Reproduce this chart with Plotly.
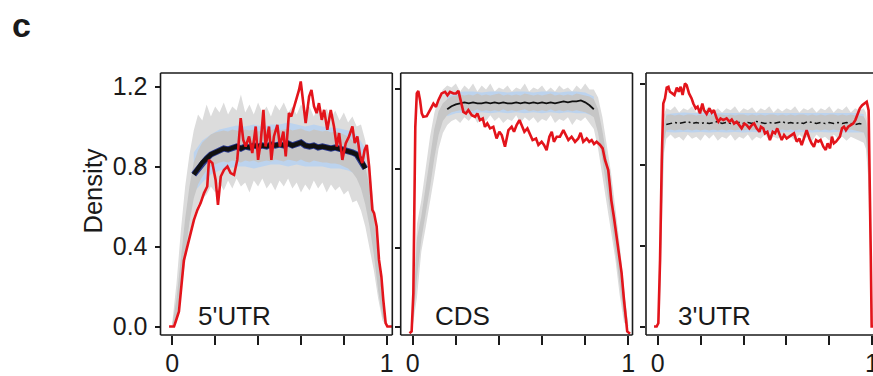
import plotly.graph_objects as go

# ---------------- data ----------------
GRID = [0.00, 0.02, 0.04, 0.06, 0.08, 0.10, 0.12, 0.14, 0.16, 0.18,
        0.20, 0.22, 0.24, 0.26, 0.28, 0.30, 0.32, 0.34, 0.36, 0.38,
        0.40, 0.42, 0.44, 0.46, 0.48, 0.50, 0.52, 0.54, 0.56, 0.58,
        0.60, 0.62, 0.64, 0.66, 0.68, 0.70, 0.72, 0.74, 0.76, 0.78,
        0.80, 0.82, 0.84, 0.86, 0.88, 0.90, 0.92, 0.94, 0.96, 0.98, 1.00]

GRID3 = [0.00, 0.01, 0.02, 0.03,
         0.04, 0.06, 0.08, 0.10, 0.12, 0.14, 0.16, 0.18, 0.20, 0.22,
         0.24, 0.26, 0.28, 0.30, 0.32, 0.34, 0.36, 0.38, 0.40, 0.42,
         0.44, 0.46, 0.48, 0.50, 0.52, 0.54, 0.56, 0.58, 0.60, 0.62,
         0.64, 0.66, 0.68, 0.70, 0.72, 0.74, 0.76, 0.78, 0.80, 0.82,
         0.84, 0.86, 0.88, 0.90, 0.92, 0.94, 0.96,
         0.97, 0.98, 0.99, 1.00]

regions = ["5'UTR", "CDS", "3'UTR"]

# ---- 5'UTR ----
utr5_outer_hi = [0.02, 0.22, 0.48, 0.70, 0.86, 0.98, 1.06, 1.03, 1.11, 1.05,
                 1.10, 1.07, 1.12, 1.06, 1.10, 1.08, 1.16, 1.07, 1.11, 1.06,
                 1.12, 1.07, 1.10, 1.05, 1.11, 1.08, 1.12, 1.07, 1.10, 1.06,
                 1.11, 1.08, 1.10, 1.05, 1.10, 1.06, 1.09, 1.04, 1.08, 1.03,
                 1.07, 1.02, 1.05, 1.00, 1.01, 0.93, 0.80, 0.60, 0.36, 0.12, 0.01]
utr5_outer_lo = [0.00, 0.04, 0.16, 0.32, 0.46, 0.55, 0.61, 0.64, 0.66, 0.70,
                 0.67, 0.72, 0.68, 0.73, 0.69, 0.74, 0.70, 0.72, 0.67, 0.73,
                 0.70, 0.74, 0.69, 0.72, 0.68, 0.73, 0.70, 0.74, 0.69, 0.72,
                 0.67, 0.71, 0.68, 0.73, 0.69, 0.72, 0.67, 0.71, 0.68, 0.70,
                 0.66, 0.68, 0.62, 0.63, 0.58, 0.50, 0.40, 0.28, 0.14, 0.03, 0.00]
utr5_mid_hi = [0.01, 0.14, 0.34, 0.54, 0.70, 0.82, 0.88, 0.92, 0.94, 0.96,
               0.97, 0.975, 0.98, 0.975, 0.985, 0.98, 0.975, 0.985, 0.98, 0.985,
               0.975, 0.98, 0.985, 0.98, 0.99, 0.98, 0.985, 0.99, 0.98, 0.985,
               0.99, 0.98, 0.975, 0.985, 0.98, 0.975, 0.98, 0.97, 0.975, 0.97,
               0.96, 0.95, 0.93, 0.91, 0.87, 0.80, 0.70, 0.54, 0.34, 0.14, 0.01]
utr5_mid_lo = [0.00, 0.05, 0.18, 0.36, 0.52, 0.64, 0.71, 0.75, 0.78, 0.80,
               0.81, 0.82, 0.825, 0.82, 0.83, 0.825, 0.82, 0.83, 0.825, 0.83,
               0.82, 0.825, 0.83, 0.825, 0.835, 0.83, 0.825, 0.835, 0.83, 0.825,
               0.835, 0.825, 0.82, 0.83, 0.825, 0.82, 0.82, 0.815, 0.815, 0.81,
               0.80, 0.79, 0.77, 0.74, 0.69, 0.61, 0.50, 0.36, 0.18, 0.05, 0.00]
utr5_blue_x = [0.10, 0.14, 0.18, 0.22, 0.26, 0.30, 0.34, 0.38, 0.42, 0.46, 0.50,
               0.54, 0.58, 0.62, 0.66, 0.70, 0.74, 0.78, 0.82, 0.86, 0.90]
utr5_blue_hi = [0.87, 0.93, 0.96, 0.985, 0.995, 1.005, 1.0, 1.01, 1.0, 1.01, 1.01,
                1.02, 1.01, 1.0, 1.01, 1.0, 0.995, 0.99, 0.98, 0.96, 0.89]
utr5_blue_lo = [0.67, 0.72, 0.76, 0.78, 0.79, 0.80, 0.80, 0.79, 0.80, 0.81, 0.81,
                0.80, 0.81, 0.80, 0.80, 0.80, 0.79, 0.79, 0.78, 0.76, 0.69]
utr5_mean_x = [0.10, 0.12, 0.14, 0.16, 0.18, 0.20, 0.22, 0.24, 0.26, 0.28,
               0.30, 0.32, 0.34, 0.36, 0.38, 0.40, 0.42, 0.44, 0.46, 0.48,
               0.50, 0.52, 0.54, 0.56, 0.58, 0.60, 0.62, 0.64, 0.66, 0.68,
               0.70, 0.72, 0.74, 0.76, 0.78, 0.80, 0.82, 0.84, 0.86, 0.88, 0.90]
utr5_mean = [0.76, 0.79, 0.82, 0.84, 0.86, 0.87, 0.88, 0.89, 0.885, 0.895,
             0.90, 0.89, 0.90, 0.895, 0.905, 0.90, 0.905, 0.90, 0.91, 0.905,
             0.91, 0.905, 0.915, 0.905, 0.91, 0.92, 0.905, 0.90, 0.905, 0.895,
             0.90, 0.895, 0.89, 0.895, 0.89, 0.885, 0.88, 0.87, 0.86, 0.83, 0.79]
utr5_red_x = [-0.015, 0.008, 0.016, 0.031, 0.054, 0.070, 0.086, 0.101, 0.117, 0.132,
              0.148, 0.163, 0.171, 0.187, 0.202, 0.213, 0.226, 0.241, 0.257, 0.272,
              0.288, 0.303, 0.319, 0.331, 0.342, 0.358, 0.373, 0.389, 0.400, 0.412,
              0.425, 0.435, 0.451, 0.462, 0.474, 0.490, 0.502, 0.518, 0.529, 0.544,
              0.555, 0.568, 0.580, 0.591, 0.599, 0.611, 0.622, 0.638, 0.649, 0.661,
              0.673, 0.684, 0.697, 0.708, 0.723, 0.739, 0.754, 0.767, 0.778, 0.793,
              0.809, 0.824, 0.840, 0.851, 0.863, 0.876, 0.886, 0.897, 0.907, 0.918,
              0.925, 0.933, 0.941, 0.953, 0.964, 0.975, 0.984, 0.995, 1.003, 1.026]
utr5_red = [0.0, 0.0, 0.025, 0.075, 0.33, 0.40, 0.483, 0.533, 0.583, 0.617,
            0.667, 0.70, 0.833, 0.817, 0.733, 0.608, 0.75, 0.783, 0.80, 0.767,
            0.758, 0.833, 1.042, 0.933, 0.90, 0.95, 0.867, 1.0, 0.833, 0.917,
            1.083, 0.90, 1.0, 0.833, 0.95, 1.008, 0.90, 0.975, 0.85, 1.067,
            1.05, 1.10, 1.133, 1.183, 1.225, 1.117, 1.017, 1.15, 1.183, 1.10,
            1.067, 1.117, 1.033, 1.083, 0.983, 1.083, 1.0, 0.90, 0.967, 0.833,
            0.917, 0.95, 1.0, 0.917, 0.95, 0.85, 0.817, 0.883, 0.908, 0.80,
            0.70, 0.583, 0.567, 0.50, 0.333, 0.25, 0.133, 0.017, 0.0, 0.0]

# ---- CDS ----
cds_outer_hi = [0.10, 0.52, 0.64, 0.80, 0.96, 1.08, 1.16, 1.20, 1.22, 1.21,
                1.23, 1.19, 1.22, 1.20, 1.23, 1.19, 1.22, 1.20, 1.23, 1.19,
                1.21, 1.20, 1.22, 1.19, 1.21, 1.20, 1.23, 1.19, 1.21, 1.20,
                1.22, 1.19, 1.21, 1.19, 1.22, 1.20, 1.21, 1.19, 1.22, 1.20,
                1.23, 1.20, 1.20, 1.16, 1.06, 0.92, 0.78, 0.60, 0.42, 0.20, 0.02]
cds_outer_lo = [0.00, 0.15, 0.38, 0.50, 0.62, 0.76, 0.90, 0.98, 1.02, 1.04,
                1.05, 1.03, 1.06, 1.04, 1.07, 1.03, 1.05, 1.04, 1.07, 1.04,
                1.06, 1.03, 1.05, 1.04, 1.07, 1.03, 1.06, 1.04, 1.06, 1.03,
                1.05, 1.04, 1.07, 1.03, 1.05, 1.04, 1.06, 1.02, 1.05, 1.04,
                1.06, 1.03, 1.00, 0.90, 0.76, 0.62, 0.48, 0.34, 0.16, 0.02, 0.00]
cds_mid_hi = [0.05, 0.45, 0.56, 0.70, 0.86, 1.00, 1.09, 1.13, 1.15, 1.165,
              1.17, 1.175, 1.17, 1.175, 1.17, 1.18, 1.17, 1.175, 1.17, 1.175,
              1.18, 1.17, 1.175, 1.17, 1.175, 1.17, 1.18, 1.175, 1.17, 1.175,
              1.17, 1.175, 1.18, 1.17, 1.175, 1.17, 1.175, 1.17, 1.18, 1.175,
              1.17, 1.165, 1.15, 1.10, 0.99, 0.86, 0.72, 0.54, 0.36, 0.16, 0.01]
cds_mid_lo = [0.00, 0.25, 0.44, 0.56, 0.70, 0.85, 0.97, 1.04, 1.07, 1.085,
              1.09, 1.095, 1.09, 1.095, 1.09, 1.10, 1.09, 1.095, 1.09, 1.095,
              1.09, 1.10, 1.09, 1.095, 1.09, 1.095, 1.10, 1.09, 1.095, 1.09,
              1.095, 1.09, 1.10, 1.09, 1.095, 1.09, 1.095, 1.09, 1.095, 1.09,
              1.085, 1.075, 1.06, 0.98, 0.84, 0.70, 0.55, 0.40, 0.22, 0.05, 0.00]
cds_blue_x = [0.16, 0.20, 0.24, 0.28, 0.32, 0.36, 0.40, 0.44, 0.48,
              0.52, 0.56, 0.60, 0.64, 0.68, 0.72, 0.76, 0.80, 0.84]
cds_blue_hi = [1.165, 1.185, 1.19, 1.19, 1.185, 1.19, 1.19, 1.185, 1.19,
               1.19, 1.185, 1.19, 1.19, 1.185, 1.19, 1.19, 1.185, 1.165]
cds_blue_lo = [1.065, 1.08, 1.085, 1.08, 1.085, 1.08, 1.085, 1.08, 1.085,
               1.08, 1.085, 1.08, 1.085, 1.08, 1.085, 1.08, 1.08, 1.065]
cds_mean_x = [0.16, 0.18, 0.20, 0.22, 0.24, 0.26, 0.28, 0.30, 0.32, 0.34,
              0.36, 0.38, 0.40, 0.42, 0.44, 0.46, 0.48, 0.50, 0.52, 0.54,
              0.56, 0.58, 0.60, 0.62, 0.64, 0.66, 0.68, 0.70, 0.72, 0.74,
              0.76, 0.78, 0.80, 0.82, 0.84]
cds_mean = [1.10, 1.115, 1.125, 1.13, 1.135, 1.13, 1.135, 1.13, 1.13, 1.135,
            1.13, 1.135, 1.13, 1.135, 1.13, 1.13, 1.135, 1.13, 1.135, 1.13,
            1.135, 1.13, 1.135, 1.13, 1.135, 1.13, 1.135, 1.14, 1.135, 1.14,
            1.14, 1.145, 1.135, 1.12, 1.10]
cds_red_x = [-0.015, -0.005, 0.003, 0.008, 0.012, 0.019, 0.026, 0.034, 0.042, 0.049,
             0.065, 0.080, 0.096, 0.108, 0.119, 0.134, 0.150, 0.161, 0.173, 0.189,
             0.201, 0.212, 0.223, 0.235, 0.247, 0.258, 0.274, 0.289, 0.300, 0.312,
             0.325, 0.335, 0.346, 0.359, 0.374, 0.389, 0.402, 0.413, 0.428, 0.444,
             0.459, 0.470, 0.482, 0.495, 0.505, 0.518, 0.532, 0.544, 0.556, 0.572,
             0.583, 0.598, 0.609, 0.621, 0.634, 0.645, 0.655, 0.668, 0.683, 0.699,
             0.711, 0.722, 0.737, 0.753, 0.768, 0.779, 0.791, 0.807, 0.819, 0.830,
             0.841, 0.853, 0.869, 0.881, 0.892, 0.900, 0.907, 0.915, 0.921, 0.933,
             0.946, 0.958, 0.969, 0.980, 0.989, 0.995, 1.008]
cds_red = [-0.034, -0.025, 0.169, 0.674, 1.011, 1.180, 1.193, 1.146, 1.079, 1.062,
           1.065, 1.096, 1.129, 1.112, 1.146, 1.180, 1.188, 1.171, 1.188, 1.180,
           1.180, 1.193, 1.146, 1.087, 1.079, 1.096, 1.070, 1.062, 1.079, 1.045,
           1.053, 1.011, 1.028, 1.003, 1.011, 0.952, 0.986, 0.969, 0.910, 0.994,
           1.011, 0.986, 1.020, 1.045, 1.020, 0.986, 1.003, 0.969, 0.944, 0.952,
           0.919, 0.935, 0.919, 0.893, 0.961, 0.986, 0.935, 0.961, 0.961, 0.994,
           0.969, 0.944, 0.961, 0.935, 0.952, 0.981, 0.935, 0.952, 0.935, 0.944,
           0.924, 0.935, 0.919, 0.902, 0.843, 0.809, 0.792, 0.708, 0.640, 0.556,
           0.455, 0.371, 0.270, 0.135, 0.017, -0.025, -0.037]

# ---- 3'UTR ----
utr3_outer_hi = [0.02, 0.40, 0.90, 1.05,
                 1.08, 1.07, 1.09, 1.06, 1.08, 1.07, 1.09, 1.06, 1.08, 1.07,
                 1.09, 1.06, 1.08, 1.06, 1.08, 1.07, 1.09, 1.06, 1.08, 1.07,
                 1.085, 1.06, 1.08, 1.07, 1.09, 1.06, 1.08, 1.065, 1.08, 1.07,
                 1.09, 1.06, 1.08, 1.07, 1.085, 1.06, 1.08, 1.07, 1.09, 1.06,
                 1.08, 1.07, 1.09, 1.06, 1.08, 1.07, 1.08,
                 1.06, 1.00, 0.70, 0.15]
utr3_outer_lo = [0.00, 0.06, 0.50, 0.86,
                 0.93, 0.95, 0.93, 0.94, 0.92, 0.95, 0.93, 0.94, 0.92, 0.95,
                 0.93, 0.95, 0.92, 0.94, 0.93, 0.95, 0.92, 0.94, 0.93, 0.95,
                 0.92, 0.94, 0.93, 0.95, 0.92, 0.94, 0.93, 0.95, 0.93, 0.94,
                 0.92, 0.95, 0.93, 0.94, 0.92, 0.95, 0.93, 0.94, 0.92, 0.95,
                 0.93, 0.94, 0.92, 0.94, 0.93, 0.92, 0.91,
                 0.88, 0.75, 0.35, 0.00]
utr3_mid_hi = [0.01, 0.25, 0.75, 1.00,
               1.045, 1.05, 1.045, 1.05, 1.045, 1.05, 1.05, 1.045, 1.05, 1.045,
               1.05, 1.045, 1.05, 1.05, 1.045, 1.05, 1.045, 1.05, 1.05, 1.045,
               1.05, 1.045, 1.05, 1.045, 1.05, 1.05, 1.045, 1.05, 1.045, 1.05,
               1.045, 1.05, 1.05, 1.045, 1.05, 1.045, 1.05, 1.045, 1.05, 1.05,
               1.045, 1.05, 1.045, 1.05, 1.045, 1.045, 1.04,
               1.02, 0.95, 0.60, 0.08]
utr3_mid_lo = [0.00, 0.12, 0.60, 0.92,
               0.97, 0.975, 0.97, 0.975, 0.97, 0.975, 0.97, 0.975, 0.97, 0.975,
               0.97, 0.975, 0.97, 0.975, 0.97, 0.975, 0.97, 0.975, 0.97, 0.975,
               0.97, 0.975, 0.97, 0.975, 0.97, 0.975, 0.97, 0.975, 0.97, 0.975,
               0.97, 0.975, 0.97, 0.975, 0.97, 0.975, 0.97, 0.975, 0.97, 0.975,
               0.97, 0.975, 0.97, 0.975, 0.97, 0.965, 0.96,
               0.93, 0.82, 0.45, 0.02]
utr3_blue_x = [0.04, 0.08, 0.12, 0.16, 0.20, 0.24, 0.28, 0.32, 0.36, 0.40, 0.44, 0.48,
               0.52, 0.56, 0.60, 0.64, 0.68, 0.72, 0.76, 0.80, 0.84, 0.88, 0.92, 0.96]
utr3_blue_hi = [1.052, 1.057, 1.06, 1.057, 1.057, 1.06, 1.057, 1.057, 1.06, 1.057, 1.057, 1.06,
                1.057, 1.057, 1.06, 1.057, 1.057, 1.06, 1.057, 1.057, 1.06, 1.057, 1.057, 1.052]
utr3_blue_lo = [0.963, 0.96, 0.963, 0.961, 0.963, 0.96, 0.963, 0.961, 0.963, 0.96, 0.963, 0.961,
                0.963, 0.96, 0.963, 0.961, 0.963, 0.96, 0.963, 0.961, 0.963, 0.96, 0.961, 0.96]
utr3_mean_x = [0.04, 0.06, 0.08, 0.10, 0.12, 0.14, 0.16, 0.18, 0.20, 0.22,
               0.24, 0.26, 0.28, 0.30, 0.32, 0.34, 0.36, 0.38, 0.40, 0.42,
               0.44, 0.46, 0.48, 0.50, 0.52, 0.54, 0.56, 0.58, 0.60, 0.62,
               0.64, 0.66, 0.68, 0.70, 0.72, 0.74, 0.76, 0.78, 0.80, 0.82,
               0.84, 0.86, 0.88, 0.90, 0.92, 0.94, 0.96]
utr3_mean = [1.00, 1.005, 1.01, 1.005, 1.01, 1.015, 1.005, 1.01, 1.005, 1.01,
             1.005, 1.01, 1.015, 1.005, 1.01, 1.005, 1.01, 1.01, 1.005, 1.01,
             1.005, 1.015, 1.01, 1.005, 1.01, 1.005, 1.01, 1.015, 1.005, 1.01,
             1.005, 1.01, 1.005, 1.015, 1.01, 1.005, 1.01, 1.005, 1.01, 1.005,
             1.01, 1.005, 1.01, 1.005, 1.00, 1.005, 1.00]
utr3_red_x = [-0.017, -0.005, 0.003, 0.011, 0.019, 0.026, 0.034, 0.042, 0.050, 0.057,
              0.068, 0.078, 0.089, 0.098, 0.107, 0.116, 0.127, 0.135, 0.146, 0.158,
              0.166, 0.177, 0.186, 0.197, 0.208, 0.216, 0.228, 0.241, 0.252, 0.262,
              0.275, 0.283, 0.293, 0.306, 0.321, 0.334, 0.345, 0.356, 0.368, 0.380,
              0.391, 0.404, 0.415, 0.427, 0.438, 0.449, 0.461, 0.474, 0.481, 0.492,
              0.500, 0.511, 0.523, 0.536, 0.547, 0.557, 0.570, 0.578, 0.589, 0.601,
              0.613, 0.624, 0.635, 0.648, 0.660, 0.671, 0.682, 0.694, 0.707, 0.717,
              0.728, 0.738, 0.748, 0.759, 0.772, 0.783, 0.792, 0.803, 0.812, 0.821,
              0.831, 0.842, 0.849, 0.859, 0.868, 0.877, 0.888, 0.899, 0.911, 0.921,
              0.930, 0.942, 0.953, 0.964, 0.974, 0.983, 0.988, 0.993, 0.997, 1.020]
utr3_red = [0.0, 0.0, 0.016, 0.33, 0.824, 1.104, 1.129, 1.183, 1.187, 1.162,
            1.154, 1.146, 1.183, 1.162, 1.187, 1.146, 1.203, 1.195, 1.154, 1.129,
            1.104, 1.080, 1.088, 1.055, 1.104, 1.071, 1.052, 1.080, 1.058, 1.071,
            1.030, 1.014, 1.030, 1.022, 1.030, 1.014, 1.025, 1.005, 1.014, 0.997,
            0.981, 1.005, 0.997, 0.981, 0.997, 1.005, 0.981, 0.964, 0.989, 0.981,
            0.956, 0.964, 0.923, 0.964, 0.956, 0.981, 0.940, 0.923, 0.948, 0.931,
            0.940, 0.948, 0.956, 0.915, 0.931, 0.898, 0.931, 0.972, 0.931, 0.907,
            0.890, 0.923, 0.915, 0.923, 0.890, 0.874, 0.907, 0.882, 0.940, 0.907,
            0.915, 0.931, 0.940, 0.981, 0.989, 0.972, 0.989, 0.997, 1.005, 1.022,
            1.047, 1.080, 1.096, 1.104, 1.113, 1.070, 0.800, 0.350, 0.0, 0.0]

y_tick_vals = [0.0, 0.4, 0.8, 1.2]
y_tick_text = ["0.0", "0.4", "0.8", "1.2"]
x_tick_vals = [0.0, 0.2, 0.4, 0.6, 0.8, 1.0]
x_tick_text = ["0", "", "", "", "", "1"]

# ---------------- styling / layout ----------------
W, H = 873, 376
C_LIGHT = "#dcdcdc"
C_MID = "#c6c6c6"
C_BLUE = "#bcd3ee"
C_NAVY = "#2b3a8f"
C_BLACK = "#111111"
C_RED = "#e3141b"
C_AXIS = "#1a1a1a"
FONT = "Liberation Sans, Arial, sans-serif"
TICK_SIZE = 25

panels = [
    dict(name=regions[0], grid=GRID, ohi=utr5_outer_hi, olo=utr5_outer_lo,
         mhi=utr5_mid_hi, mlo=utr5_mid_lo, bx=utr5_blue_x, bhi=utr5_blue_hi, blo=utr5_blue_lo,
         mx=utr5_mean_x, my=utr5_mean, rx=utr5_red_x, ry=utr5_red,
         px=(160.5, 392.3), xr=(-0.055, 1.026), yr=(-0.0425, 1.2675), lab_x=196.0,
         navy=True, mean_w=4.5, dash="solid"),
    dict(name=regions[1], grid=GRID, ohi=cds_outer_hi, olo=cds_outer_lo,
         mhi=cds_mid_hi, mlo=cds_mid_lo, bx=cds_blue_x, bhi=cds_blue_hi, blo=cds_blue_lo,
         mx=cds_mean_x, my=cds_mean, rx=cds_red_x, ry=cds_red,
         px=(400.7, 632.5), xr=(-0.0557, 1.0195), yr=(-0.043, 1.2835), lab_x=432.5,
         navy=False, mean_w=1.8, dash="solid"),
    dict(name=regions[2], grid=GRID3, ohi=utr3_outer_hi, olo=utr3_outer_lo,
         mhi=utr3_mid_hi, mlo=utr3_mid_lo, bx=utr3_blue_x, bhi=utr3_blue_hi, blo=utr3_blue_lo,
         mx=utr3_mean_x, my=utr3_mean, rx=utr3_red_x, ry=utr3_red,
         px=(646.0, 873.0), xr=(-0.0545, 1.0033), yr=(-0.042, 1.255), lab_x=676.0,
         navy=False, mean_w=1.5, dash="6px,3px,2px,3px"),
]

Y_TOP, Y_BOT = 73.0, 335.0
ydom = [(H - Y_BOT) / H, (H - Y_TOP) / H]

fig = go.Figure()


def band(x, hi, lo, color, xa, ya):
    return go.Scatter(x=list(x) + list(x)[::-1], y=list(hi) + list(lo)[::-1],
                      fill="toself", fillcolor=color, mode="lines",
                      line=dict(width=0, color=color), hoverinfo="skip",
                      xaxis=xa, yaxis=ya, showlegend=False)


layout_axes = {}
shapes = []
annotations = []
for i, p in enumerate(panels, start=1):
    sfx = "" if i == 1 else str(i)
    xa, ya = f"x{sfx}", f"y{sfx}"
    fig.add_trace(band(p["grid"], p["ohi"], p["olo"], C_LIGHT, xa, ya))
    fig.add_trace(band(p["bx"], p["bhi"], p["blo"], C_BLUE, xa, ya))
    fig.add_trace(band(p["grid"], p["mhi"], p["mlo"], C_MID, xa, ya))
    if p["navy"]:
        fig.add_trace(go.Scatter(x=p["mx"], y=p["my"], mode="lines",
                                 line=dict(color=C_NAVY, width=6.2), hoverinfo="skip",
                                 xaxis=xa, yaxis=ya, showlegend=False))
    fig.add_trace(go.Scatter(x=p["mx"], y=p["my"], mode="lines",
                             line=dict(color=C_BLACK, width=p["mean_w"], dash=p["dash"]),
                             hoverinfo="skip", xaxis=xa, yaxis=ya, showlegend=False))
    fig.add_trace(go.Scatter(x=p["rx"], y=p["ry"], mode="lines",
                             line=dict(color=C_RED, width=2.6), hoverinfo="skip",
                             xaxis=xa, yaxis=ya, showlegend=False))

    # last panel is cut at the page edge: its "1" label is drawn as an annotation
    tt = x_tick_text if i != 3 else x_tick_text[:-1] + [""]
    layout_axes[f"xaxis{sfx}"] = dict(
        domain=[p["px"][0] / W, p["px"][1] / W], range=list(p["xr"]), anchor=ya,
        tickmode="array", tickvals=x_tick_vals, ticktext=tt,
        ticks="outside", ticklen=9, tickwidth=1.6, tickcolor=C_AXIS,
        showgrid=False, zeroline=False, showline=False, fixedrange=True,
        automargin=False,
        tickfont=dict(family=FONT, size=TICK_SIZE, color="#1a1a1a"), ticklabelstandoff=-3)
    layout_axes[f"yaxis{sfx}"] = dict(
        domain=ydom, range=list(p["yr"]), anchor=xa,
        tickmode="array", tickvals=y_tick_vals,
        ticktext=y_tick_text if i == 1 else ["", "", "", ""],
        ticks="outside", ticklen=5, tickwidth=1.6, tickcolor=C_AXIS,
        showgrid=False, zeroline=False, showline=False, fixedrange=True,
        automargin=False,
        tickfont=dict(family=FONT, size=TICK_SIZE, color="#1a1a1a"), ticklabelstandoff=2)

    dref_x, dref_y = f"{xa} domain", f"{ya} domain"
    line = dict(color=C_AXIS, width=1.6)
    segs = [(0, 1, 1, 1), (0, 0, 0, 1), (0, 1, 0, 0)]
    if i != 3:
        segs.append((1, 1, 0, 1))
    for x0, x1, y0, y1 in segs:
        shapes.append(dict(type="line", xref=dref_x, yref=dref_y,
                           x0=x0, x1=x1, y0=y0, y1=y1, line=line, layer="above"))

    annotations.append(dict(text=p["name"], xref="paper", yref="paper",
                            x=p["lab_x"] / W, y=(H - 315.5) / H,
                            xanchor="left", yanchor="middle", showarrow=False,
                            font=dict(family=FONT, size=26, color="#1a1a1a")))

annotations.append(dict(text=x_tick_text[-1], xref="x3", yref="paper",
                        x=x_tick_vals[-1], y=(H - 362.5) / H,
                        xanchor="center", yanchor="middle", showarrow=False,
                        font=dict(family=FONT, size=TICK_SIZE, color="#1a1a1a")))
annotations.append(dict(text="Density", xref="paper", yref="paper",
                        x=92 / W, y=(H - 191.5) / H, textangle=-90,
                        xanchor="center", yanchor="middle", showarrow=False,
                        font=dict(family=FONT, size=25.5, color="#1a1a1a")))
annotations.append(dict(text="<b>c</b>", xref="paper", yref="paper",
                        x=10 / W, y=(H - 25) / H, xanchor="left", yanchor="middle",
                        showarrow=False, font=dict(family=FONT, size=34, color="#1a1a1a")))

fig.update_layout(width=W, height=H, margin=dict(l=0, r=0, t=0, b=0, autoexpand=False),
                  paper_bgcolor="white", plot_bgcolor="white", showlegend=False,
                  shapes=shapes, annotations=annotations, **layout_axes)

fig.write_html("out.html", config={"displayModeBar": False},
               post_script="document.body.style.margin='0';document.body.style.padding='0';"
                           "document.body.style.overflow='hidden';")
